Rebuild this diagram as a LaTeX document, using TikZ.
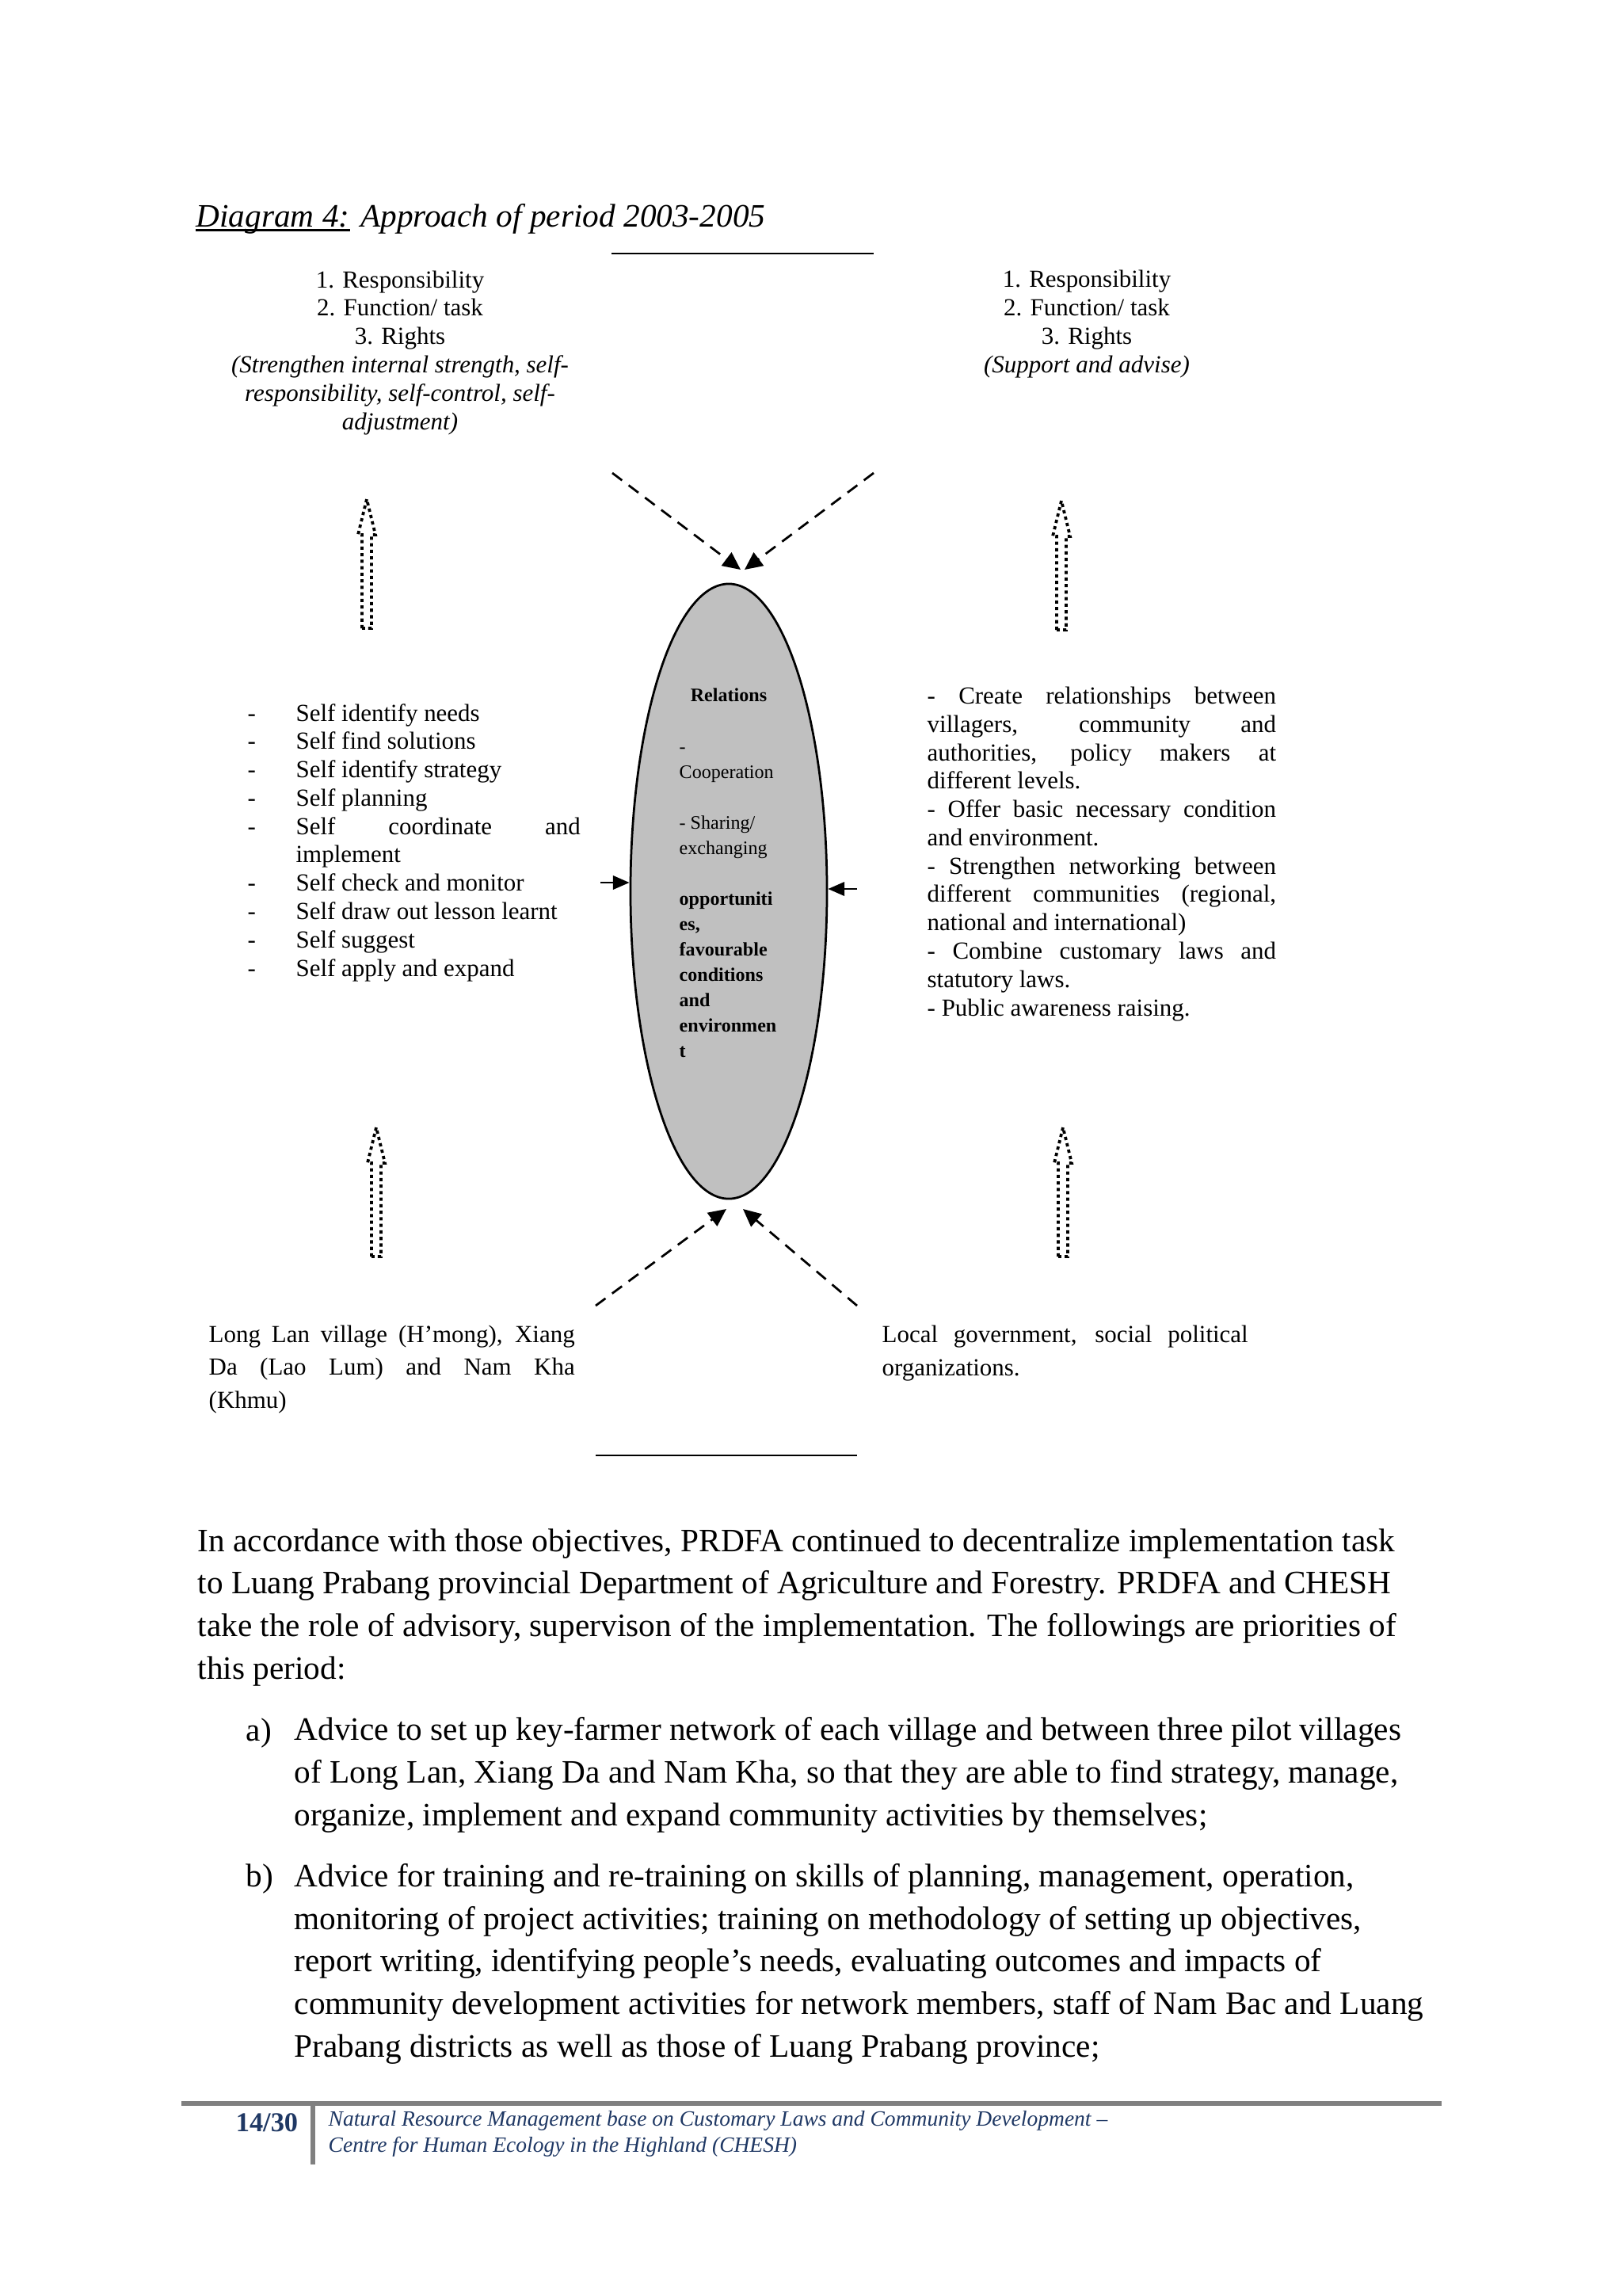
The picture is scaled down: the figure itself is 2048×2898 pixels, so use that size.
\documentclass[tikz,border=0pt]{standalone}
\usepackage{fontspec}
\setmainfont{Liberation Serif}
\usetikzlibrary{arrows.meta,shapes.geometric}
\definecolor{footblue}{RGB}{31,56,100}
\definecolor{relgray}{RGB}{192,192,192}
\definecolor{footgray}{RGB}{128,128,128}
\newcommand{\jl}[2]{\makebox[#1][s]{#2}}
\newcommand{\dsh}{\makebox[17.7pt][l]{-}}
\begin{document}
\begin{tikzpicture}[x=0.29067pt,y=-0.29067pt,
  dtext/.style={font=\fontsize{9}{10.4}\selectfont, inner sep=0pt},
  btext/.style={font=\fontsize{9}{12}\selectfont, inner sep=0pt, align=left, anchor=base west},
  etext/.style={font=\fontsize{7}{9.3}\selectfont, inner sep=0pt},
  ptext/.style={font=\fontsize{12}{15.6}\selectfont, inner sep=0pt, align=left, anchor=base west},
  dashconn/.style={line width=0.8pt, dash pattern=on 4.5pt off 3pt, -{Triangle[length=6.5pt,width=6pt]}},
  sideconn/.style={line width=0.8pt, -{Triangle[length=6pt,width=5pt]}},
  rule/.style={line width=0.8pt},
  dotuparrow/.pic={\draw[line width=1.1pt, dash pattern=on 1.2pt off 1.2pt]
     (-6,163) -- (-6,45) -- (-11,45) -- (0,0) -- (11,45) -- (6,45) -- (6,163) -- cycle;}
]
\useasboundingbox[fill=white] (0,0) rectangle (2048,2898);
% NOTE: multi-line nodes are anchored at the baseline of their LAST line.

% title
\node[anchor=base west, inner sep=0, font=\fontsize{12}{14}\selectfont\itshape] (title) at (247,286)
  {Diagram 4: Approach of period 2003-2005};
\draw[line width=0.6pt] ([yshift=-1.3pt]title.base west) -- ++(195,0);
\draw[rule] (772,320) -- (1103,320);

% top texts
\node[dtext, align=center, anchor=base] (tl) at (505,542)
  {1. Responsibility\\2. Function/ task\\3. Rights\\\textit{(Strengthen internal strength, self-}\\\textit{responsibility, self-control, self-}\\\textit{adjustment)}};
\node[dtext, align=center, anchor=base] (tr) at (1372,470)
  {1. Responsibility\\2. Function/ task\\3. Rights\\\textit{(Support and advise)}};

% dotted hollow arrows
\pic at (463,630) {dotuparrow};
\pic at (1340,632) {dotuparrow};
\pic at (475,1423) {dotuparrow};
\pic at (1342,1423) {dotuparrow};

% ellipse
\node[ellipse, draw, line width=0.8pt, fill=relgray, minimum width=72.1pt, minimum height=225.6pt, inner sep=0pt] (rel) at (920,1125) {};
\node[etext, font=\fontsize{7}{9.3}\selectfont\bfseries, anchor=base] (relt) at (920,885) {Relations};
\node[etext, align=left, anchor=base west] (relb) at (857,1334)
  {-\\Cooperation\\[9.3pt]- Sharing/\\exchanging\\[9.3pt]\textbf{opportuniti}\\\textbf{es,}\\\textbf{favourable}\\\textbf{conditions}\\\textbf{and}\\\textbf{environmen}\\\textbf{t}};

% left list
\node[dtext, align=left, anchor=base west] (ll) at (312,1232)
  {\dsh Self identify needs\\
   \dsh Self find solutions\\
   \dsh Self identify strategy\\
   \dsh Self planning\\
   \dsh\jl{104.4pt}{Self coordinate and}\\
   \hspace*{17.7pt}implement\\
   \dsh Self check and monitor\\
   \dsh Self draw out lesson learnt\\
   \dsh Self suggest\\
   \dsh Self apply and expand};

% right list
\node[dtext, align=left, anchor=base west] (rb) at (1170,1282)
  {\jl{128pt}{- Create relationships between}\\
   \jl{128pt}{villagers, community and}\\
   \jl{128pt}{authorities, policy makers at}\\
   different levels.\\
   \jl{128pt}{- Offer basic necessary condition}\\
   and environment.\\
   \jl{128pt}{- Strengthen networking between}\\
   \jl{128pt}{different communities (regional,}\\
   national and international)\\
   \jl{128pt}{- Combine customary laws and}\\
   statutory laws.\\
   - Public awareness raising.};

% side arrows
\coordinate (lin) at (758,1114);
\coordinate (rin) at (1082,1122);
\draw[sideconn] (lin) -- (lin -| rel.west);
\draw[sideconn] (rin) -- (rin -| rel.east);

% dashed arrows
\coordinate (a1) at (773,597);  \coordinate (a1t) at (935,719);
\coordinate (a2) at (1103,597); \coordinate (a2t) at (940,719);
\coordinate (b1) at (752,1648); \coordinate (b1t) at (917,1526);
\coordinate (b2) at (1082,1648);\coordinate (b2t) at (938,1526);
\draw[dashconn] (a1) -- (a1t);
\draw[dashconn] (a2) -- (a2t);
\draw[dashconn] (b1) -- (b1t);
\draw[dashconn] (b2) -- (b2t);

% bottom texts
\node[btext] (bl) at (263,1777)
  {\jl{134.3pt}{Long Lan village (H’mong), Xiang}\\\jl{134.3pt}{Da (Lao Lum) and Nam Kha}\\(Khmu)};
\node[btext] (br) at (1113,1736)
  {\jl{134.3pt}{Local government, social political}\\organizations.};
\draw[rule] (752,1837) -- (1082,1837);

% body text
\node[ptext] (body) at (249,2119)
  {In accordance with those objectives, PRDFA continued to decentralize implementation task\\
   to Luang Prabang provincial Department of Agriculture and Forestry. PRDFA and CHESH\\
   take the role of advisory, supervison of the implementation. The followings are priorities of\\
   this period:};
\node[ptext] (la) at (310,2197) {a)};
\node[ptext] (lat) at (371,2304)
  {Advice to set up key-farmer network of each village and between three pilot villages\\
   of Long Lan, Xiang Da and Nam Kha, so that they are able to find strategy, manage,\\
   organize, implement and expand community activities by themselves;};
\node[ptext] (lb) at (310,2381) {b)};
\node[ptext] (lbt) at (371,2596)
  {Advice for training and re-training on skills of planning, management, operation,\\
   monitoring of project activities; training on methodology of setting up objectives,\\
   report writing, identifying people’s needs, evaluating outcomes and impacts of\\
   community development activities for network members, staff of Nam Bac and Luang\\
   Prabang districts as well as those of Luang Prabang province;};

% footer
\draw[line width=2pt, footgray] (229,2655) -- (1820,2655);
\draw[line width=1.5pt, footgray] (395,2655) -- (395,2732);
\node[font=\fontsize{10}{12}\selectfont\bfseries, text=footblue, anchor=base, inner sep=0pt] (pg) at (337,2690) {14/30};
\node[font=\fontsize{8}{9.6}\selectfont\itshape, text=footblue, align=left, anchor=base west, inner sep=0pt] (ft) at (414,2716)
  {Natural Resource Management base on Customary Laws and Community Development –\\Centre for Human Ecology in the Highland (CHESH)};
\end{tikzpicture}
\end{document}
